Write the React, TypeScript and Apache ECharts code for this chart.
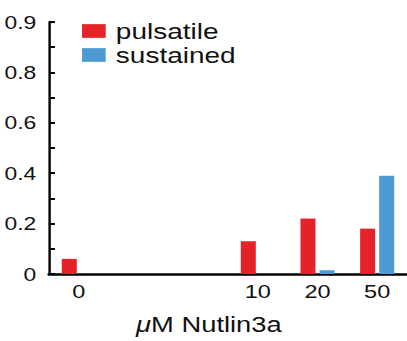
import React, { useEffect, useRef } from "react";
import * as echarts from "echarts";

// Data
const doses = ["0", "10", "20", "50"];
const pulsatile = [0.06, 0.13, 0.22, 0.18];
const sustained = [0, 0, 0.015, 0.39];
// axis slots: two blank slots between 0 and 10 give the uneven spacing
const xCategories = ["0", "", " ", "10", "20", "50"];
const seriesNames = ["pulsatile", "sustained"];
const colors = ["#E42228", "#4C9BD4"];

const STRETCH = 407 / 320;
const FONT = "'Liberation Sans', Arial, Helvetica, sans-serif";

function toSlots(values: number[]) {
  return xCategories.map((c) => {
    const i = doses.indexOf(c);
    return i >= 0 ? values[i] : null;
  });
}

export default function App() {
  const ref = useRef<HTMLDivElement>(null);
  useEffect(() => {
    if (!ref.current) return;
    const chart = echarts.init(ref.current, undefined, { renderer: "svg" });
    chart.setOption({
      animation: false,
      backgroundColor: "#ffffff",
      textStyle: { fontFamily: FONT },
      legend: {
        orient: "vertical",
        left: 64.5,
        top: 20,
        padding: 0,
        itemWidth: 18.6,
        itemHeight: 13.7,
        itemGap: 2,
        icon: "rect",
        textStyle: { fontSize: 22, color: "#111", fontFamily: FONT, padding: [0, 0, 0, 3] },
        data: seriesNames,
      },
      grid: { left: 38.5, top: 22, width: 289, height: 253.6 },
      xAxis: {
        type: "category",
        data: xCategories,
        axisLine: { show: true, lineStyle: { color: "#000", width: 2.5 } },
        axisTick: { show: false },
        axisLabel: { fontSize: 18.5, color: "#111", margin: 8, fontFamily: FONT },
        name: "{it|μ}M Nutlin3a",
        nameLocation: "middle",
        nameGap: 40,
        nameTextStyle: {
          fontSize: 21.5,
          color: "#111",
          fontFamily: FONT,
          padding: [0, 30, 0, 0],
          rich: { it: { fontStyle: "italic", fontSize: 21.5, color: "#111", fontFamily: FONT } },
        },
      },
      yAxis: {
        type: "value",
        min: 0,
        max: 1,
        interval: 0.1,
        splitLine: { show: false },
        axisLine: { show: true, lineStyle: { color: "#000", width: 1.9 } },
        axisTick: { show: true, inside: true, length: 4.7, lineStyle: { color: "#000", width: 2 } },
        axisLabel: {
          fontSize: 18,
          color: "#111",
          margin: 10,
          fontFamily: FONT,
          formatter: (v: number) => {
            const t = Math.round(v * 10);
            if (t === 10) return "0.9";
            if (t % 2) return "";
            return t === 0 ? "0" : (t / 10).toString();
          },
        },
      },
      series: [
        {
          name: seriesNames[0],
          type: "bar",
          data: toSlots(pulsatile),
          barWidth: 11.8,
          barGap: "27%",
          itemStyle: { color: colors[0] },
        },
        {
          name: seriesNames[1],
          type: "bar",
          data: toSlots(sustained),
          barWidth: 11.8,
          barGap: "27%",
          itemStyle: { color: colors[1] },
        },
      ],
    });
    return () => chart.dispose();
  }, []);
  return (
    <div
      style={{
        position: "fixed",
        left: 0,
        top: 0,
        width: 407,
        height: 341,
        overflow: "hidden",
        background: "#fff",
      }}
    >
      <div
        ref={ref}
        style={{
          width: 320,
          height: 341,
          transform: `scaleX(${STRETCH})`,
          transformOrigin: "0 0",
        }}
      />
    </div>
  );
}
